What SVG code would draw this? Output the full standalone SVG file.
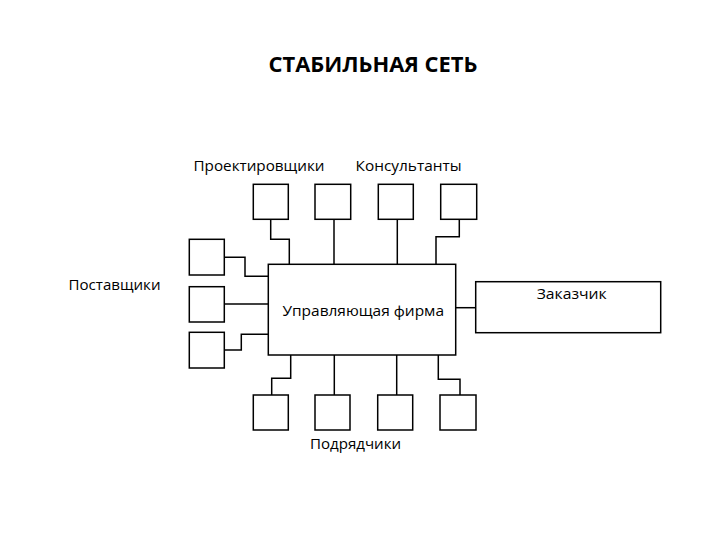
<svg xmlns="http://www.w3.org/2000/svg" width="720" height="540" viewBox="0 0 720 540">
<style>
.box{fill:#fff;stroke:#000;stroke-width:1.5}
.ln{fill:none;stroke:#000;stroke-width:1.5}
.t{font-family:"Open Sans","DejaVu Sans",sans-serif;font-size:15px;fill:#000}
.h{font-family:"Open Sans","DejaVu Sans",sans-serif;font-size:21px;font-weight:bold;fill:#000}
</style>
<rect width="720" height="540" fill="#fff"/>
<text class="h" x="268.5" y="72" textLength="209" lengthAdjust="spacingAndGlyphs">СТАБИЛЬНАЯ СЕТЬ</text>
<text class="t" x="193.5" y="170.5" textLength="131" lengthAdjust="spacingAndGlyphs">Проектировщики</text>
<text class="t" x="355.5" y="170.5" textLength="106" lengthAdjust="spacingAndGlyphs">Консультанты</text>
<text class="t" x="68.5" y="290" textLength="92" lengthAdjust="spacingAndGlyphs">Поставщики</text>
<text class="t" x="310" y="449" textLength="91" lengthAdjust="spacingAndGlyphs">Подрядчики</text>
<g id="connectors">
<polyline class="ln" points="270.7,219.3 270.7,239.3 289.3,239.3 289.3,264.3"/>
<line class="ln" x1="334" y1="219.3" x2="334" y2="264.3"/>
<line class="ln" x1="397.3" y1="219.3" x2="397.3" y2="264.3"/>
<polyline class="ln" points="459.3,219.3 459.3,236.7 436,236.7 436,264.3"/>
<polyline class="ln" points="224.3,257.3 245,257.3 245,276.3 268.3,276.3"/>
<line class="ln" x1="224.3" y1="304" x2="268.3" y2="304"/>
<polyline class="ln" points="224.3,350 241.3,350 241.3,334.3 268.3,334.3"/>
<polyline class="ln" points="290.7,355 290.7,378.3 271.7,378.3 271.7,395"/>
<line class="ln" x1="334.3" y1="355" x2="334.3" y2="395"/>
<line class="ln" x1="396.7" y1="355" x2="396.7" y2="395"/>
<polyline class="ln" points="438.3,355 438.3,379.3 460,379.3 460,395"/>
<line class="ln" x1="455.7" y1="307.7" x2="475.7" y2="307.7"/>
</g>
<g id="main"><rect class="box" x="268.3" y="264.3" width="187.4" height="90.7"/>
<text class="t" x="282.5" y="316" textLength="161.5" lengthAdjust="spacingAndGlyphs">Управляющая фирма</text></g>
<g id="customer"><rect class="box" x="475.7" y="281.7" width="185" height="51"/>
<text class="t" x="536.7" y="299" textLength="70" lengthAdjust="spacingAndGlyphs">Заказчик</text></g>
<g id="designer1"><rect class="box" x="253.3" y="184.3" width="35" height="35"/></g>
<g id="designer2"><rect class="box" x="315" y="184.3" width="35.7" height="35"/></g>
<g id="consultant1"><rect class="box" x="378.3" y="184.3" width="35" height="35"/></g>
<g id="consultant2"><rect class="box" x="440.7" y="184.3" width="36" height="35"/></g>
<g id="supplier1"><rect class="box" x="189.3" y="239.3" width="35" height="35.7"/></g>
<g id="supplier2"><rect class="box" x="189.3" y="286.7" width="35" height="35.3"/></g>
<g id="supplier3"><rect class="box" x="189.3" y="332.3" width="35" height="35.7"/></g>
<g id="contractor1"><rect class="box" x="253.3" y="395" width="35" height="35"/></g>
<g id="contractor2"><rect class="box" x="315" y="395" width="35" height="35"/></g>
<g id="contractor3"><rect class="box" x="377.7" y="395" width="35" height="35"/></g>
<g id="contractor4"><rect class="box" x="440" y="395" width="36" height="35"/></g>
</svg>
